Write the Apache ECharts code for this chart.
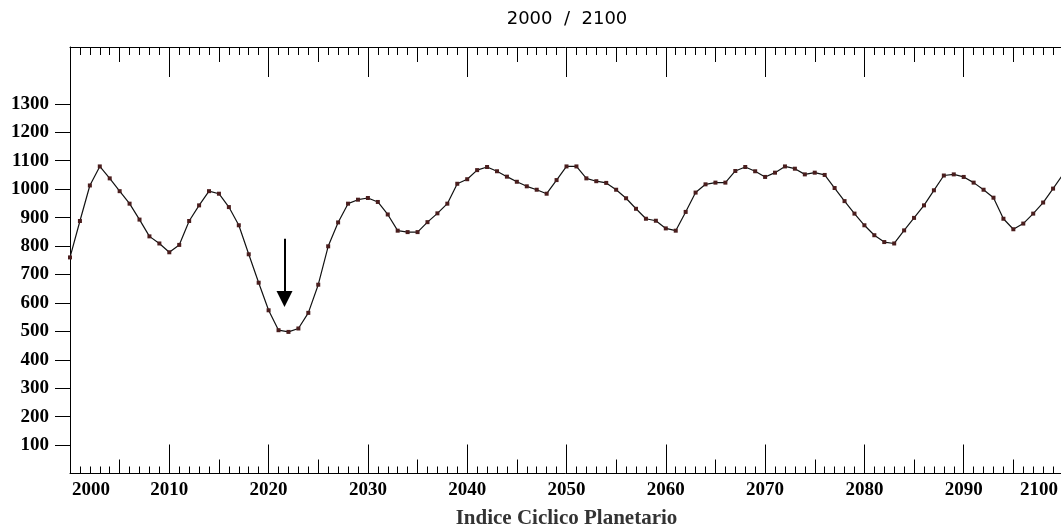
<!DOCTYPE html>
<html>
<head>
<meta charset="utf-8">
<script src="https://cdn.jsdelivr.net/npm/echarts@6/dist/echarts.min.js"></script>
<style>
html,body{margin:0;padding:0;background:#fff;}
#c{width:1061px;height:528px;}
</style>
</head>
<body>
<div id="c"></div>
<script>
// ---- data ----
const years = [];
for (let y = 2000; y <= 2100; y++) years.push(y);
const values = [
  760, 888, 1013, 1080, 1038, 993, 949, 893, 834, 809,
  778, 804, 888, 943, 993, 984, 937, 873, 771, 671,
  574, 504, 498, 510, 565, 664, 799, 883, 949, 963,
  969, 955, 911, 854, 849, 849, 884, 915, 949, 1019,
  1035, 1067, 1078, 1063, 1044, 1026, 1010, 998, 984, 1032,
  1080, 1080, 1038, 1028, 1022, 998, 968, 931, 896, 889,
  862, 854, 920, 988, 1017, 1023, 1023, 1064, 1078, 1063,
  1043, 1058, 1080, 1072, 1052, 1058, 1050, 1004, 958, 914,
  873, 838, 814, 809, 855, 899, 943, 996, 1048, 1052,
  1043, 1023, 998, 970, 896, 859, 879, 914, 953, 1002,
  1052
];
const yTickValues = [100, 200, 300, 400, 500, 600, 700, 800, 900, 1000, 1100, 1200, 1300];
const titleText = '2000  /  2100';
const axisTitle = 'Indice Ciclico Planetario';
const arrowYear = 2021.6;
const arrowFromValue = 826;
const arrowToValue = 614;

const seriesData = years.map((y, i) => [y, values[i]]);

const serif = '"Liberation Serif", "Times New Roman", serif';
const labelFont = {fontFamily: serif, fontWeight: 'bold', fontSize: 19, color: '#000'};

const gridBox = {left: 70, top: 47, width: 993, height: 426.5, containLabel: false, outerBoundsMode: 'none'};

const chart = echarts.init(document.getElementById('c'));
chart.setOption({
  animation: false,
  backgroundColor: '#fff',
  graphic: [{
    type: 'text', x: 567, y: 10,
    style: {text: titleText, textAlign: 'center', textVerticalAlign: 'top',
      fontFamily: '"DejaVu Sans", Verdana, sans-serif', fontSize: 18, fill: '#000'}
  }],
  grid: [Object.assign({}, gridBox), Object.assign({}, gridBox)],
  xAxis: [
    {
      gridIndex: 0, type: 'value', position: 'bottom', min: 2000, max: 2100, interval: 10,
      axisLine: {show: true, lineStyle: {color: '#000', width: 1}},
      axisTick: {show: true, inside: true, length: 29, lineStyle: {color: '#000', width: 1}},
      minorTick: {show: true, splitNumber: 10, length: 7, lineStyle: {color: '#000', width: 1}},
      splitLine: {show: false},
      axisLabel: Object.assign({
        margin: 7, showMinLabel: true, showMaxLabel: true,
        formatter: function (v) {
          if (v === 2000) return '{s|' + v + '}';
          if (v === 2100) return '{e|' + v + '}';
          return String(v);
        },
        rich: {
          s: Object.assign({padding: [0, 0, 0, 42]}, labelFont),
          e: Object.assign({padding: [0, 48, 0, 0]}, labelFont)
        }
      }, labelFont),
      name: axisTitle, nameLocation: 'middle', nameGap: 35,
      nameTextStyle: {fontFamily: serif, fontSize: 21, fontWeight: 'bold', color: '#333'}
    },
    {
      gridIndex: 0, type: 'value', position: 'top', min: 2000, max: 2100, interval: 10,
      axisLine: {show: true, lineStyle: {color: '#000', width: 1}},
      axisTick: {show: true, inside: true, length: 30, lineStyle: {color: '#000', width: 1}},
      minorTick: {show: true, splitNumber: 10, length: 8, lineStyle: {color: '#000', width: 1}},
      splitLine: {show: false},
      axisLabel: {show: false}
    },
    {
      gridIndex: 1, type: 'value', position: 'bottom', min: 2000, max: 2100, interval: 5,
      axisLine: {show: false},
      axisTick: {show: true, inside: true, length: 14, lineStyle: {color: '#000', width: 1}},
      splitLine: {show: false},
      axisLabel: {show: false}
    },
    {
      gridIndex: 1, type: 'value', position: 'top', min: 2000, max: 2100, interval: 5,
      axisLine: {show: false},
      axisTick: {show: true, inside: true, length: 15, lineStyle: {color: '#000', width: 1}},
      splitLine: {show: false},
      axisLabel: {show: false}
    }
  ],
  yAxis: [
    {
      gridIndex: 0, type: 'value', min: 0, max: 1500, interval: 100,
      axisLine: {show: true, lineStyle: {color: '#000', width: 1}},
      axisTick: {show: true, length: 15, customValues: yTickValues, lineStyle: {color: '#000', width: 1}},
      splitLine: {show: false},
      axisLabel: Object.assign({margin: 21, customValues: yTickValues,
        formatter: function (v) { return String(v); }}, labelFont)
    },
    {
      gridIndex: 1, type: 'value', min: 0, max: 1500, show: false
    }
  ],
  series: [{
    type: 'line',
    xAxisIndex: 0, yAxisIndex: 0,
    data: seriesData,
    symbol: 'rect', symbolSize: 4, showSymbol: true,
    lineStyle: {color: '#111', width: 1.2},
    itemStyle: {color: '#4a1e1e'},
    silent: true,
    markLine: {
      silent: true,
      symbol: ['none', 'triangle'],
      symbolSize: 16,
      label: {show: false},
      lineStyle: {color: '#000', width: 2, type: 'solid'},
      itemStyle: {color: '#000'},
      data: [[{coord: [arrowYear, arrowFromValue]}, {coord: [arrowYear, arrowToValue]}]]
    }
  }]
});
</script>
</body>
</html>
